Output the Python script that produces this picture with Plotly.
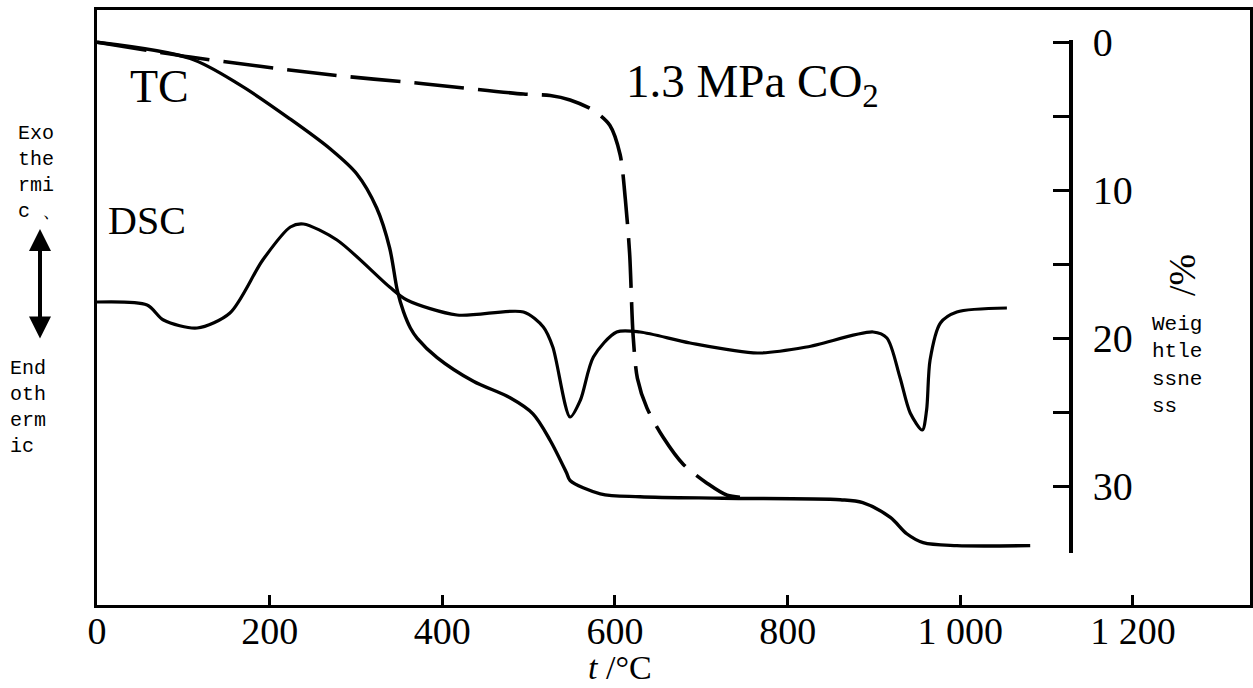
import plotly.graph_objects as go

# ---------------- data ----------------
# TG curve "TC" (weight loss, %)
tc_t = [0, 108, 166, 224, 270, 301, 324, 339, 348, 355, 363, 371, 394, 436, 478, 505, 525, 544, 548,
        583, 629, 725, 861, 887, 919, 938, 957, 996, 1081]
tc_w = [0.0, 1.1, 2.9, 5.2, 7.2, 8.9, 11.2, 13.9, 16.8, 18.2, 19.3, 20.0, 21.3, 22.9, 24.0, 25.1, 26.9, 29.1, 29.6,
        30.5, 30.7, 30.8, 30.9, 31.1, 32.1, 33.2, 33.8, 34.0, 34.0]

# TG curve under 1.3 MPa CO2 (dashed)
co2_t = [0, 108, 270, 378, 494, 525, 548, 575, 594, 606, 612, 617, 621, 626, 637, 656, 679, 707, 730, 760]
co2_w = [0.0, 1.0, 2.2, 2.8, 3.5, 3.6, 3.9, 4.6, 5.6, 7.6, 10.6, 14.3, 19.8, 22.7, 24.7, 26.7, 28.5, 29.8, 30.6, 30.8]

# DSC curve (arbitrary units, exo up)
dsc_t = [0, 58, 77, 116, 154, 192, 224, 239, 278, 339, 359, 417, 494, 517, 528, 548, 560, 575, 602,
         629, 687, 765, 822, 899, 915, 930, 942, 956, 961, 965, 977, 996, 1054]
dsc_v = [2.8, 2.5, 1.0, 0.2, 1.7, 7.0, 10.3, 10.6, 9.0, 4.3, 3.0, 1.5, 1.8, 0.3, -1.7, -8.7, -7.0, -2.7, -0.2,
         -0.2, -1.3, -2.3, -1.7, -0.2, -0.8, -4.7, -8.3, -10.0, -8.0, -3.0, 0.7, 1.8, 2.2]

x_ticks = [0, 200, 400, 600, 800, 1000, 1200]
x_tick_text = ["0", "200", "400", "600", "800", "1 000", "1 200"]
w_ticks = [0, 10, 20, 30]
w_tick_text = ["0", "10", "20", "30"]
w_minor_ticks = [5, 15, 25]

# ---------------- layout geometry ----------------
W, H = 1253, 688
L, R, T, B = 97, 3, 10, 83
PW, PH = W - L - R, H - T - B


def px(xp):
    return (xp - L) / PW


def py(yp):
    return (H - B - yp) / PH


SERIF = "Liberation Serif"
MONO = "Liberation Mono"

fig = go.Figure()
fig.add_trace(go.Scatter(x=dsc_t, y=dsc_v, mode="lines", xaxis="x", yaxis="y",
                         line=dict(color="black", width=3.2, shape="spline", smoothing=0.8),
                         showlegend=False, hoverinfo="skip"))
fig.add_trace(go.Scatter(x=tc_t, y=tc_w, mode="lines", xaxis="x", yaxis="y2",
                         line=dict(color="black", width=3.4, shape="spline", smoothing=0.9),
                         showlegend=False, hoverinfo="skip"))
fig.add_trace(go.Scatter(x=co2_t, y=co2_w, mode="lines", xaxis="x", yaxis="y2",
                         line=dict(color="black", width=3.6, shape="spline", smoothing=0.8,
                                   dash="50px,14px"),
                         showlegend=False, hoverinfo="skip"))

ann = []


def txt(text, xp, yp, size, family=SERIF, xanchor="left", yanchor="middle", angle=0, align="left"):
    ann.append(dict(text=text, x=px(xp), y=py(yp), xref="paper", yref="paper",
                    xanchor=xanchor, yanchor=yanchor, showarrow=False, textangle=angle,
                    align=align, font=dict(family=family, size=size, color="black")))


txt("TC", 128, 86, 46)
txt("DSC", 106, 221, 40)
txt("1.3 MPa CO<sub>2</sub>", 624, 84, 47)
txt("<i>t</i> /°C", 620, 688, 34, xanchor="center", yanchor="bottom")
txt("/%", 1182, 275, 38, xanchor="center", angle=-90)

txt("Exo<br>the<br>rmi<br>c 、", 16, 120, 20, family=MONO, yanchor="top")
txt("End<br>oth<br>erm<br>ic", 8, 355, 20, family=MONO, yanchor="top")
txt("Weig<br>htle<br>ssne<br>ss", 1150, 311, 21, family=MONO, yanchor="top")

# double-headed arrow (exo / endo)
ann.append(dict(x=px(40), y=py(229), xref="paper", yref="paper",
                ax=0, ay=(340 - 229), axref="pixel", ayref="pixel",
                showarrow=True, arrowhead=2, startarrowhead=2, arrowside="end+start",
                arrowsize=1.1, startarrowsize=1.1, arrowwidth=4, arrowcolor="black", text=""))

fig.update_layout(
    width=W, height=H,
    margin=dict(l=L, r=R, t=T, b=B, pad=0, autoexpand=False),
    paper_bgcolor="white", plot_bgcolor="rgba(0,0,0,0)",
    annotations=ann,
    xaxis=dict(range=[0, 1335.6], tickvals=x_ticks, ticktext=x_tick_text,
               ticks="inside", ticklen=10, tickwidth=2.5, tickcolor="black",
               showline=True, linecolor="black", linewidth=3, mirror=True,
               showgrid=False, zeroline=False, automargin=False,
               tickfont=dict(family=SERIF, size=38, color="black"), ticklabelstandoff=-10),
    yaxis=dict(range=[-27.5, 32], domain=[0, 1], showticklabels=False, ticks="",
               showline=True, linecolor="black", linewidth=3, mirror=True,
               showgrid=False, zeroline=False, automargin=False),
    yaxis2=dict(range=[34.5, -0.15], domain=[py(553), py(40)], anchor="free",
                position=px(1071), side="right",
                tickvals=w_ticks, ticktext=w_tick_text,
                ticks="inside", ticklen=16, tickwidth=2.5, tickcolor="black",
                minor=dict(tickvals=w_minor_ticks, ticks="inside", ticklen=16, tickwidth=2.5,
                           tickcolor="black", showgrid=False),
                showline=True, linecolor="black", linewidth=3.5,
                showgrid=False, zeroline=False, automargin=False,
                tickfont=dict(family=SERIF, size=40, color="black"), ticklabelstandoff=12),
)

fig.write_html("out.html")
